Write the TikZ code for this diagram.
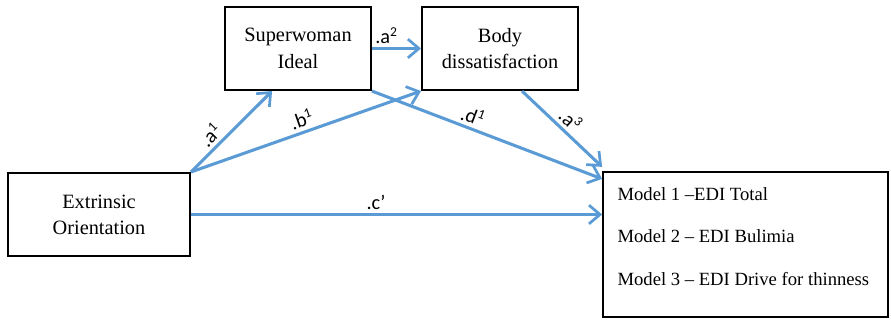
\documentclass[tikz,border=0pt]{standalone}
\usepackage{fontspec}
\setmainfont{Liberation Serif}
\newfontfamily\lblfont{Carlito}
\usetikzlibrary{positioning,arrows.meta}
\tikzset{
  pathline/.style={-{Straight Barb[length=6.5pt, width=11pt, line width=1.6pt]}, line width=1.8pt, draw=pathblue},
  varbox/.style={draw, line width=1.2pt, fill=white, minimum width=86pt, minimum height=49pt, align=center, inner sep=2pt, font=\fontsize{12}{15.5}\selectfont},
  modelbox/.style={draw, line width=1.2pt, fill=white, minimum width=168pt, minimum height=85.6pt},
  modtext/.style={align=left, inner sep=0pt, font=\fontsize{11}{25}\selectfont},
  coef/.style={font=\lblfont\fontsize{12}{14}\selectfont, inner sep=2pt}
}
\definecolor{pathblue}{HTML}{5B9BD5}

\begin{document}
\begin{tikzpicture}[x=0.59pt, y=-0.59pt]
  \useasboundingbox (0,0) rectangle (891,321);
  \node[varbox] (sw) at (298,48.5) {Superwoman\\Ideal};
  \node[varbox, minimum width=92pt] (body) at (500,48.5) {Body\\dissatisfaction};
  \node[varbox, minimum width=107.4pt] (eo) at (99,214.5) {Extrinsic\\Orientation};
  \node[modelbox] (mod) at (745.5,244.5) {};
  \node[modtext, anchor=north west] (modtxt) at ([xshift=8.9pt, yshift=-9.6pt]mod.north west)
    {Model 1 --EDI Total\\Model 2 -- EDI Bulimia\\Model 3 -- EDI Drive for thinness};
  % paths
  \draw[pathline] (eo.north east) -- node[coef, sloped, above, pos=0.35] (la1) {.a\textsuperscript{1}} ([xshift=-15.3pt]sw.south);
  \draw[pathline] (eo.north east) -- node[coef, sloped, above, pos=0.5] (lb1) {.b\textsuperscript{1}} (body.south west);
  \draw[pathline] (sw.south east) -- node[coef, sloped, above, pos=0.42] (ld1) {.d\textsuperscript{1}} ([yshift=-4.7pt]mod.north west);
  \draw[pathline] ([xshift=13pt]body.south) -- node[coef, sloped, above, pos=0.5] (la3) {.a\textsuperscript{3}} ([yshift=2.4pt]mod.north west);
  \draw[pathline] (sw.east) -- node[coef, above, pos=0.3] (la2) {.a\textsuperscript{2}} (body.west);
  \draw[pathline] (eo.east) -- node[coef, above, pos=0.45] (lc) {.c\textquoteright} (eo.east -| mod.west);
\end{tikzpicture}
\end{document}
